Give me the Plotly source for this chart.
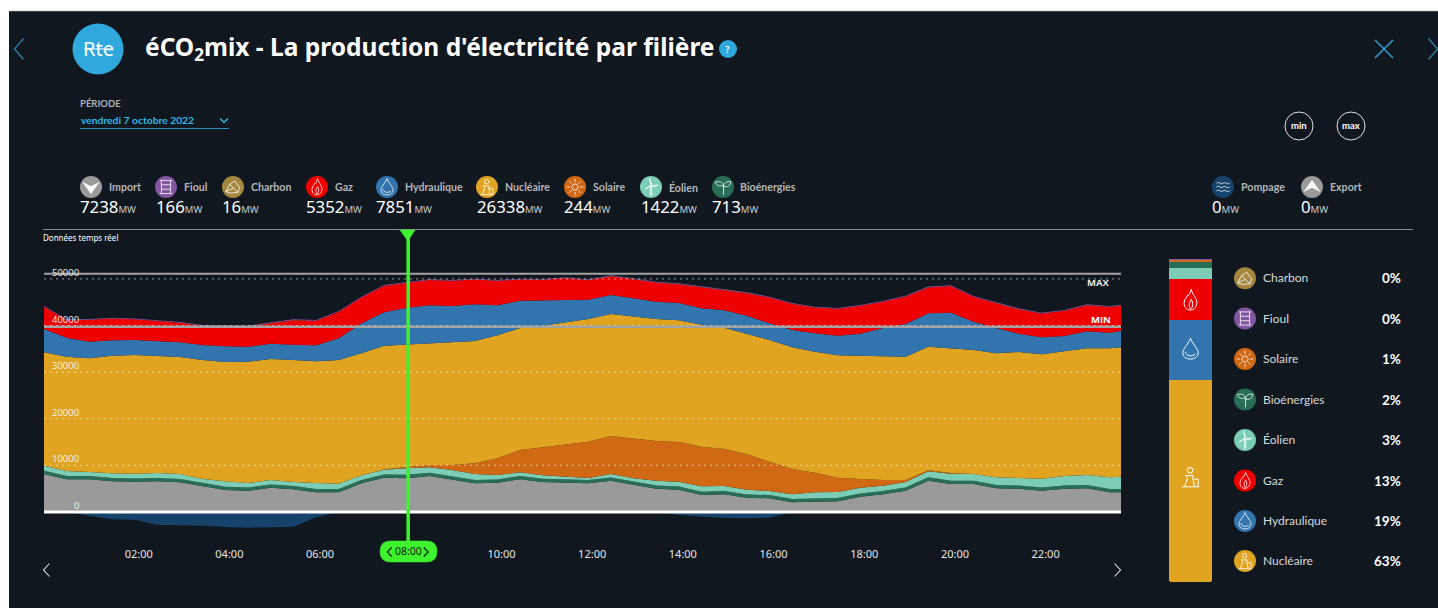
import plotly.graph_objects as go

W, H = 1438, 608
hours = [i * 0.5 for i in range(48)] + [23.75]

importation = [8133, 6996, 6996, 6567, 6481, 6567, 6352, 5558, 4700, 4550, 5193, 4850, 4206, 4206, 6138, 7339, 7238,
               7704, 6846, 6138, 6266, 6996, 6417, 6202, 6138, 6696, 5773, 4979, 4764, 3627, 3777, 3047, 2919, 2060,
               2189, 2275, 3262, 3777, 4550, 6696, 5987, 5987, 5065, 4979, 4550, 4979, 5065, 4206, 4206]
bioenergies = [700, 700, 705, 700, 695, 700, 700, 705, 700, 700, 695, 700, 710, 705, 710, 712, 713,
               715, 710, 705, 700, 700, 705, 700, 695, 700, 700, 705, 700, 700, 695, 700, 700, 705,
               700, 695, 700, 705, 710, 715, 710, 705, 700, 700, 695, 700, 700, 705, 700]
eolien = [1081, 1081, 867, 1017, 1017, 1081, 1081, 802, 1167, 952, 952, 867, 1296, 1146, 1017, 1017, 1422,
          1167, 1446, 1296, 952, 802, 738, 588, 437, 738, 738, 1017, 1017, 1167, 1081, 1017, 867, 1017,
          1317, 1296, 1231, 1146, 1167, 1317, 1510, 1446, 1660, 1596, 1875, 2025, 2154, 2519, 2648]
solaire = [0, 0, 0, 0, 0, 0, 0, 0, 0, 0, 0, 0, 0, 0, 0, 40, 244,
           494, 1073, 2296, 3584, 4786, 6009, 7017, 7790, 8155, 8498, 8520, 8520, 8498, 7940, 7597, 6288, 5429,
           4206, 3069, 1867, 1223, 429, 215, 150, 0, 0, 0, 0, 0, 0, 0, 0]
nucleaire = [24336, 24529, 24400, 25237, 25473, 25173, 25108, 25537, 25602, 26031, 25967, 26181, 26117, 26546, 26181,
             26567, 26338, 26181, 26331, 26246, 26396, 26181, 26095, 26095, 26331, 26181, 26181, 26181, 26117, 26181,
             26031, 25816, 26117, 26117, 25967, 26267, 26460, 26460, 26460, 26525, 26761, 26610, 26610, 27040, 26696,
             26761, 27190, 27683, 27769]
hydraulique = [5000, 4077, 3562, 3305, 3219, 3155, 3155, 3219, 3369, 3219, 3283, 3283, 3434, 4657, 6438, 7168, 7851,
               8090, 7790, 7876, 6438, 5859, 5515, 4871, 4142, 4077, 3949, 3713, 3713, 3519, 3734, 3927, 3584, 3713,
               3949, 4206, 4721, 6159, 7017, 7168, 7640, 6073, 5429, 3927, 3648, 3283, 3648, 3348, 3498]
gaz = [4756, 3769, 4691, 4670, 4434, 4327, 4176, 4112, 4241, 4327, 4412, 5271, 5249, 5679, 5528, 5679, 5352,
       5400, 5400, 5314, 5249, 4541, 4327, 4691, 4198, 4047, 4112, 4112, 4047, 4541, 4455, 4842, 5528, 5614,
       5528, 5764, 5979, 5614, 5893, 5528, 5700, 5335, 5335, 5271, 5099, 5400, 5614, 5550, 5400]
charbon = [16] * 49
fioul = [166] * 49
pompage = [0, 0, -815, -1588, -1674, -2747, -2876, -2961, -3240, -3391, -3305, -3176, -1159, 0, 0, 0, 0,
           0, 0, 0, 0, 0, 0, 0, 0, 0, 0, 0, -665, -944, -1309, -1373, -1245, 0,
           0, 0, 0, 0, 0, 0, 0, 0, 0, 0, 0, 0, 0, 0, 0]

y_ticks = [0, 10000, 20000, 30000, 40000, 50000]
x_ticks = [2, 4, 6, 10, 12, 14, 16, 18, 20, 22]
x_labels = ["02:00", "04:00", "06:00", "10:00", "12:00", "14:00", "16:00", "18:00", "20:00", "22:00"]
max_level = 51118
min_level = 39744
cursor_hour = 8

top_names = ["Import", "Fioul", "Charbon", "Gaz", "Hydraulique", "Nucléaire", "Solaire", "Éolien", "Bioénergies",
             "Pompage", "Export"]
top_values = [7238, 166, 16, 5352, 7851, 26338, 244, 1422, 713, 0, 0]

mix_names = ["Fioul", "Charbon", "Solaire", "Bioénergies", "Éolien", "Gaz", "Hydraulique", "Nucléaire"]
mix_values = [166, 16, 244, 713, 1422, 5352, 7851, 26338]

side_names = ["Charbon", "Fioul", "Solaire", "Bioénergies", "Éolien", "Gaz", "Hydraulique", "Nucléaire"]
side_pcts = ["0%", "0%", "1%", "2%", "3%", "13%", "19%", "63%"]

COL = {"Import": "#9a9a9a", "Fioul": "#8356a2", "Charbon": "#a5883e", "Gaz": "#ee0000", "Hydraulique": "#3274ad",
       "Nucléaire": "#e0a420", "Solaire": "#d16814", "Éolien": "#7bcdb5", "Bioénergies": "#286d58",
       "Pompage": "#15436b", "Export": "#9a9a9a"}
BG = "#10171f"
GREEN = "#3ef22e"
BLUE = "#2a9fd0"
FONT = "Lato"


def px(x):
    return x / W


def py(y):
    return 1 - y / H


shapes = []
annotations = []


def ann(x, y, text, size, color="#ffffff", anchor="left", family=FONT):
    annotations.append(dict(xref="paper", yref="paper", x=px(x), y=py(y), text=text, showarrow=False,
                            xanchor=anchor, yanchor="middle", font=dict(size=size, color=color, family=family),
                            borderpad=0, borderwidth=0))


def path(points, color="#ffffff", width=1, fill=None, layer="above"):
    """points: SVG-like tokens in pixel coordinates."""
    out = []
    for tok in points:
        if isinstance(tok, str):
            out.append(tok)
        else:
            out.append(f"{px(tok[0]):.5f},{py(tok[1]):.5f}")
    shapes.append(dict(type="path", xref="paper", yref="paper", path=" ".join(out),
                       line=dict(color=color, width=width), fillcolor=fill or "rgba(0,0,0,0)", layer=layer))


def circle(cx, cy, r, fill=None, line=None, width=1):
    shapes.append(dict(type="circle", xref="paper", yref="paper", x0=px(cx - r), x1=px(cx + r),
                       y0=py(cy + r), y1=py(cy - r), fillcolor=fill or "rgba(0,0,0,0)",
                       line=dict(color=line or "rgba(0,0,0,0)", width=width)))


def chevron(x, y, w, h, color, width=1.2, direction="left"):
    d = -1 if direction == "left" else 1
    path(["M", (x - d * w / 2, y - h / 2), "L", (x + d * w / 2, y), "L", (x - d * w / 2, y + h / 2)], color, width)


GLYPHS = {
    "Fioul": [("M-.55,-.6 L.55,-.6 M-.55,.6 L.55,.6 M-.42,-.6 L-.42,.6 M.42,-.6 L.42,.6 M-.42,-.2 L.42,-.2 M-.42,.2 L.42,.2", False)],
    "Charbon": [("M-.65,.4 L-.3,-.25 L.15,-.55 L.6,.05 L.45,.5 L-.3,.55 Z M-.3,-.25 L.05,.1 L.45,.5 M.05,.1 L-.65,.4", False)],
    "Gaz": [("M.05,-.75 C.15,-.35 .5,-.1 .45,.25 C.4,.6 .15,.72 0,.72 C-.3,.72 -.5,.45 -.45,.15 C-.42,-.1 -.25,-.15 -.2,-.35 C-.1,-.25 -.05,-.5 .05,-.75 Z M0,.65 C-.2,.35 0,.1 .05,-.05 C.2,.2 .2,.5 0,.65", False)],
    "Hydraulique": [("M0,-.75 C.2,-.3 .55,0 .55,.25 C.55,.55 .3,.72 0,.72 C-.3,.72 -.55,.55 -.55,.25 C-.55,0 -.2,-.3 0,-.75 Z M-.38,.2 C-.3,.5 .1,.6 .35,.35", False)],
    "Nucléaire": [("M-.6,.7 L.6,.7 M-.42,.7 L-.2,.05 L-.35,-.1 L.2,-.1 L.15,.05 L.3,.7 M.2,.15 L.55,.15 L.55,.7", True)],
    "Solaire": [("M-.3,0 L-.15,-.26 L.15,-.26 L.3,0 L.15,.26 L-.15,.26 Z M-.75,0 L-.45,0 M.45,0 L.75,0 M0,-.75 L0,-.45 M0,.45 L0,.75 M-.53,-.53 L-.32,-.32 M.53,-.53 L.32,-.32 M-.53,.53 L-.32,.32 M.53,.53 L.32,.32", False)],
    "Éolien": [("M-.08,.75 L-.03,-.1 L.03,-.1 L.08,.75 Z M0,-.15 L-.15,-.8 L.08,-.25 M0,-.15 L.65,-.15 L.1,0 M0,-.15 L-.55,.2 L-.1,-.05", False)],
    "Bioénergies": [("M.05,.7 L.05,-.1 M.05,-.05 C.05,-.4 .35,-.5 .7,-.5 C.7,-.1 .4,.05 .05,-.05 M.02,-.15 C0,-.45 -.35,-.55 -.7,-.45 C-.65,-.15 -.3,0 .02,-.15", False)],
    "Pompage": [("M-.6,-.35 C-.3,-.55 -.2,-.15 0,-.35 C.2,-.55 .3,-.15 .6,-.35 M-.6,0 C-.3,-.2 -.2,.2 0,0 C.2,-.2 .3,.2 .6,0 M-.6,.35 C-.3,.15 -.2,.55 0,.35 C.2,.15 .3,.55 .6,.35", False)],
}


def glyph(name, cx, cy, r, color="#ffffff", width=0.9):
    if name == "Import":
        path(["M", (cx - .72 * r, cy - .4 * r), "L", (cx, cy - .05 * r), "L", (cx + .72 * r, cy - .4 * r),
              "L", (cx, cy + .62 * r), "Z"], "#ffffff", 0.5, "#ffffff")
        return
    if name == "Export":
        path(["M", (cx - .72 * r, cy + .4 * r), "L", (cx, cy + .05 * r), "L", (cx + .72 * r, cy + .4 * r),
              "L", (cx, cy - .62 * r), "Z"], "#ffffff", 0.5, "#ffffff")
        return
    d, has_dot = GLYPHS[name][0]
    out = []
    for t in d.split():
        letter = t[0]
        if letter in "MLCZ":
            out.append(letter)
            rest = t[1:]
            if rest:
                a, b = rest.split(",")
                out.append((cx + float(a) * r, cy + float(b) * r))
        else:
            a, b = t.split(",")
            out.append((cx + float(a) * r, cy + float(b) * r))
    path(out, color, width)
    if has_dot:
        circle(cx - .03 * r, cy - .48 * r, .2 * r, None, color, width)


# panel
shapes.append(dict(type="rect", xref="paper", yref="paper", x0=px(9), x1=1, y0=0, y1=py(11), fillcolor=BG,
                   line=dict(width=0), layer="below"))
path(["M", (9, 11), "L", (1438, 11)], "#b5b8ba", 0.6)

# header
circle(98, 49, 25.5, "#2ea8dd")
ann(98, 48, "Rte", 20, "#ffffff", "center", "Noto Sans")
path(["M", (84, 49), "L", (113, 49)], "#ffffff", 1)
ann(145, 48, "<b>éCO<sub>2</sub>mix - La production d'électricité par filière</b>", 24.5, "#ffffff", "left", "Noto Sans")
circle(728, 49, 9, "#2ea8dd")
ann(728, 49, "<b>?</b>", 10, "#ffffff", "center")
chevron(19, 49, 9, 21, "#2a7fa5", 1.3, "left")
chevron(1433, 49, 9, 21, "#2a7fa5", 1.3, "right")
path(["M", (1375, 40), "L", (1393, 58), "M", (1393, 40), "L", (1375, 58)], BLUE, 1.5)

# period
ann(80, 104, "<b>PÉRIODE</b>", 9.5, "#b0b3b6")
ann(81, 120.5, "<b>vendredi 7 octobre 2022</b>", 10.3, "#2fb8e6")
path(["M", (80, 128.5), "L", (229, 128.5)], "#2a8fb8", 1)
path(["M", (220, 118.5), "L", (224, 122.5), "L", (228, 118.5)], "#2fb8e6", 1.3)

# min / max
circle(1299, 126, 14, None, "#e0e0e0", 1)
circle(1351, 126, 14, None, "#e0e0e0", 1)
ann(1299, 125.5, "<b>min</b>", 9.5, "#ffffff", "center")
ann(1351, 125.5, "<b>max</b>", 9.5, "#ffffff", "center")

# top legend
top_icon_x = [91, 166, 233, 317, 387, 487, 575, 651, 723, 1223, 1312]
top_value_x = [80, 156, 222, 306, 376, 477, 564, 640.5, 712, 1212, 1301]
for name, val, ix, vx in zip(top_names, top_values, top_icon_x, top_value_x):
    circle(ix, 187, 11, COL[name])
    glyph(name, ix, 187, 11, "#ffffff", 0.8)
    ann(ix + 17.5, 187, f"<b>{name}</b>", 10.6, "#b3b6b9")
    ann(vx, 206, f"{val}<span style='font-size:9.5px;color:#c8cbce'>MW</span>", 16.8, "#ffffff", "left", "Noto Sans")

path(["M", (43, 229.5), "L", (1413, 229.5)], "#8a8d90", 1)
ann(43, 237.5, "Données temps réel", 8, "#ffffff", "left", "Noto Sans")

# grid, levels (data coordinates)
for t in y_ticks[1:]:
    shapes.append(dict(type="line", xref="x", yref="y", x0=hours[0], x1=hours[-1], y0=t, y1=t,
                       line=dict(color="rgba(255,255,255,0.6)", width=1, dash="2px,4px")))
    annotations.append(dict(xref="paper", yref="y", x=px(80.5), y=t, yshift=6.5, text=str(t), showarrow=False,
                            xanchor="right", yanchor="middle", font=dict(size=9.5, color="#f2f2f2", family="Open Sans")))
annotations.append(dict(xref="paper", yref="y", x=px(80.5), y=0, yshift=6, text="0", showarrow=False,
                        xanchor="right", yanchor="middle", font=dict(size=9.5, color="#f2f2f2", family="Open Sans")))
shapes.append(dict(type="line", xref="x", yref="y", x0=hours[0], x1=hours[-1], y0=max_level, y1=max_level,
                   line=dict(color="#a3a3a3", width=2)))
shapes.append(dict(type="line", xref="x", yref="y", x0=hours[0], x1=hours[-1], y0=min_level, y1=min_level,
                   line=dict(color="#a3a3a3", width=2.5)))
shapes.append(dict(type="line", xref="x", yref="y", x0=hours[0], x1=hours[-1], y0=0, y1=0,
                   line=dict(color="#ffffff", width=3)))
ann(1098.5, 282, "<b>MAX</b>", 9.5, "#e6e6e6", "center", "Open Sans")
ann(1100.5, 319.5, "<b>MIN</b>", 9.5, "#ffffff", "center", "Open Sans")

# cursor
shapes.append(dict(type="line", xref="x", yref="paper", xsizemode="pixel", xanchor=cursor_hour, x0=1.4, x1=1.4,
                   y0=py(541), y1=py(231), line=dict(color=GREEN, width=3.5)))
path(["M", (400, 230), "L", (415, 230), "L", (407.9, 241), "Z"], GREEN, 0.5, GREEN)
path(["M", (390, 541), "L", (427, 541), "Q", (437, 541), (437, 551.5), "Q", (437, 562), (427, 562), "L", (390, 562),
      "Q", (380, 562), (380, 551.5), "Q", (380, 541), (390, 541), "Z"], GREEN, 0.5, GREEN)
ann(408.5, 550.5, "08:00", 10.5, "#0c1a10", "center", "Noto Sans")
chevron(389.5, 552, 4.5, 9, "#0c1a10", 1.1, "left")
chevron(426, 552, 4.5, 9, "#0c1a10", 1.1, "right")

# nav chevrons
chevron(46.5, 570, 6, 13, "#e8e8e8", 1.1, "left")
chevron(1117.5, 570, 6, 13, "#e8e8e8", 1.1, "right")

# side legend
side_y = [278.3, 318.5, 359, 399.5, 440, 480.5, 521, 561]
for name, pct, y in zip(side_names, side_pcts, side_y):
    circle(1245, y, 11, COL[name])
    glyph(name, 1245, y, 11, "#ffffff", 0.8)
    ann(1263, y - 0.5, name, 12, "#d8dadc")
    ann(1401, y, f"<b>{pct}</b>", 13.5, "#ffffff", "right")

# icons on the mix bar
glyph("Gaz", 1190.5, 300, 14, "#ffffff", 1)
glyph("Hydraulique", 1190.5, 349, 14, "#ffffff", 1)
glyph("Nucléaire", 1190.5, 477, 14, "#ffffff", 1)

fig = go.Figure()
stack = [("Import", importation), ("Bioénergies", bioenergies), ("Éolien", eolien), ("Solaire", solaire),
         ("Nucléaire", nucleaire), ("Hydraulique", hydraulique), ("Gaz", gaz), ("Charbon", charbon), ("Fioul", fioul)]
for name, vals in stack:
    fig.add_trace(go.Scatter(x=hours, y=vals, name=name, mode="lines", stackgroup="one",
                             line=dict(width=0, color=COL[name]), fillcolor=COL[name], hoverinfo="skip"))
fig.add_trace(go.Scatter(x=hours, y=pompage, name="Pompage", mode="lines", fill="tozeroy",
                         line=dict(width=0, color=COL["Pompage"]), fillcolor=COL["Pompage"], hoverinfo="skip"))
for name, val in zip(mix_names, mix_values):
    fig.add_trace(go.Bar(x=["mix"], y=[val], name=name, marker=dict(color=COL[name], line=dict(width=0)),
                         xaxis="x2", yaxis="y2", hoverinfo="skip"))

fig.update_layout(
    width=W, height=H, margin=dict(l=0, r=0, t=0, b=0), paper_bgcolor="#ffffff", plot_bgcolor="rgba(0,0,0,0)",
    showlegend=False, barmode="stack", bargap=0, barcornerradius=3, hovermode=False,
    font=dict(family=FONT, color="#ffffff"),
    xaxis=dict(domain=[px(44), px(1121)], range=[hours[0], hours[-1]], tickmode="array", tickvals=x_ticks,
               ticktext=x_labels, ticklabelshift=4, ticklabelstandoff=6, showgrid=False, zeroline=False,
               showline=False, ticks="", tickfont=dict(size=11, color="#e6e6e6", family="Noto Sans"), anchor="y"),
    yaxis=dict(domain=[py(540), py(240)], range=[(511.9 - 540) * 214.6, (511.9 - 240) * 214.6], showgrid=False,
               zeroline=False, showticklabels=False, ticks="", showline=False, anchor="x"),
    xaxis2=dict(domain=[px(1169), px(1212)], visible=False, anchor="y2", fixedrange=True),
    yaxis2=dict(domain=[py(582.3), py(259)], range=[sum(mix_values), 0], visible=False, anchor="x2", fixedrange=True),
    shapes=shapes, annotations=annotations,
)

fig.write_html("out.html", config={"displayModeBar": False},
               post_script="document.body.style.margin='0';document.body.style.overflow='hidden';")
